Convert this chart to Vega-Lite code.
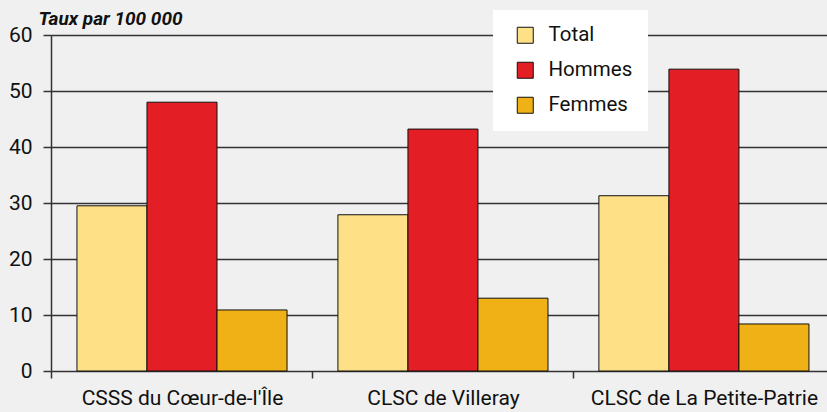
{
  "$schema": "https://vega.github.io/schema/vega-lite/v6.json",
  "width": 776,
  "height": 336,
  "autosize": {"type": "none"},
  "padding": {"left": 51, "top": 35, "right": 0, "bottom": 41},
  "background": "#f0f0f0",
  "config": {
    "view": {"stroke": null},
    "font": "Roboto, Liberation Sans, sans-serif"
  },
  "data": {
    "values": [
      {"territoire": "CSSS du Cœur-de-l'Île", "groupe": "Total", "taux": 29.5},
      {"territoire": "CSSS du Cœur-de-l'Île", "groupe": "Hommes", "taux": 48.0},
      {"territoire": "CSSS du Cœur-de-l'Île", "groupe": "Femmes", "taux": 10.9},
      {"territoire": "CLSC de Villeray", "groupe": "Total", "taux": 27.9},
      {"territoire": "CLSC de Villeray", "groupe": "Hommes", "taux": 43.2},
      {"territoire": "CLSC de Villeray", "groupe": "Femmes", "taux": 13.0},
      {"territoire": "CLSC de La Petite-Patrie", "groupe": "Total", "taux": 31.3},
      {"territoire": "CLSC de La Petite-Patrie", "groupe": "Hommes", "taux": 53.9},
      {"territoire": "CLSC de La Petite-Patrie", "groupe": "Femmes", "taux": 8.4}
    ]
  },
  "mark": {"type": "bar", "stroke": "#111111", "strokeWidth": 1},
  "encoding": {
    "x": {
      "field": "territoire",
      "type": "nominal",
      "sort": ["CSSS du Cœur-de-l'Île", "CLSC de Villeray", "CLSC de La Petite-Patrie"],
      "scale": {"paddingInner": 0.195, "paddingOuter": 0.0843, "align": 0.59},
      "axis": {
        "title": null,
        "labelAngle": 0,
        "labelFontSize": 21,
        "labelColor": "#111111",
        "labelPadding": 9,
        "labelLimit": 0,
        "tickOffset": -130.5,
        "labelOffset": 130.5,
        "tickSize": 7,
        "tickColor": "#333333",
        "tickWidth": 1.5,
        "domain": false,
        "grid": false
      }
    },
    "xOffset": {
      "field": "groupe",
      "type": "nominal",
      "sort": ["Total", "Hommes", "Femmes"],
      "scale": {"paddingInner": 0, "paddingOuter": 0}
    },
    "y": {
      "field": "taux",
      "type": "quantitative",
      "scale": {"domain": [0, 60], "nice": false},
      "axis": {
        "values": [0, 10, 20, 30, 40, 50, 60],
        "title": "Taux par 100 000",
        "titleAngle": 0,
        "titleAlign": "left",
        "titleBaseline": "alphabetic",
        "titleX": -13,
        "titleY": -11,
        "titleFontSize": 19,
        "titleFontStyle": "italic",
        "titleFontWeight": "bold",
        "titleColor": "#111111",
        "labelFontSize": 21,
        "labelColor": "#111111",
        "labelPadding": 11,
        "tickSize": 8,
        "tickColor": "#333333",
        "tickWidth": 1.5,
        "grid": true,
        "gridColor": "#333333",
        "gridWidth": 1.5,
        "domain": true,
        "domainColor": "#333333",
        "domainWidth": 1.5
      }
    },
    "color": {
      "field": "groupe",
      "type": "nominal",
      "sort": ["Total", "Hommes", "Femmes"],
      "scale": {"domain": ["Total", "Hommes", "Femmes"], "range": ["#fee187", "#e31e24", "#efb116"]},
      "legend": {
        "title": null,
        "orient": "none",
        "legendX": 442,
        "legendY": -25,
        "fillColor": "#ffffff",
        "padding": 15,
        "symbolOffset": 7,
        "symbolType": "square",
        "symbolSize": 256,
        "symbolStrokeColor": "#111111",
        "symbolStrokeWidth": 1,
        "labelFontSize": 20.5,
        "labelColor": "#111111",
        "labelOffset": 13,
        "rowPadding": 14
      }
    }
  }
}
